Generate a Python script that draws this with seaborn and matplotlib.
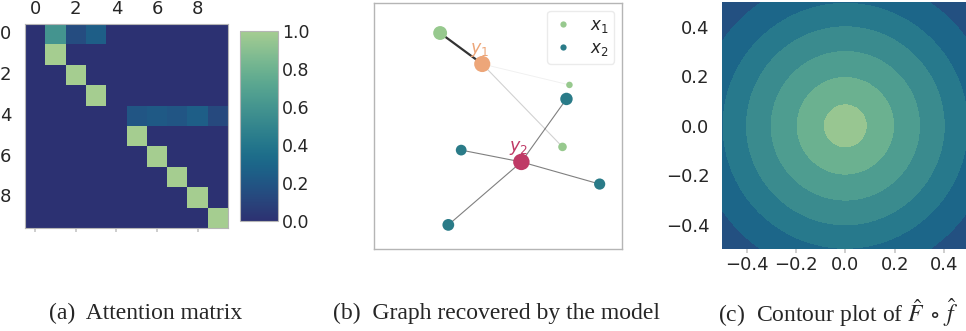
import numpy as np
import pandas as pd
import matplotlib
matplotlib.use("Agg")
import matplotlib.pyplot as plt
import seaborn as sns

sns.set_theme(style="white")
plt.rcParams["font.family"] = ["DejaVu Sans"]

# ---- (a) attention weights (rows: queries, columns: keys) ----
attention_rows = [
    [0.00, 0.60, 0.15, 0.25, 0.00, 0.00, 0.00, 0.00, 0.00, 0.00],
    [0.00, 1.00, 0.00, 0.00, 0.00, 0.00, 0.00, 0.00, 0.00, 0.00],
    [0.00, 0.00, 1.00, 0.00, 0.00, 0.00, 0.00, 0.00, 0.00, 0.00],
    [0.00, 0.00, 0.00, 1.00, 0.00, 0.00, 0.00, 0.00, 0.00, 0.00],
    [0.00, 0.00, 0.00, 0.00, 0.00, 0.20, 0.22, 0.20, 0.25, 0.13],
    [0.00, 0.00, 0.00, 0.00, 0.00, 1.00, 0.00, 0.00, 0.00, 0.00],
    [0.00, 0.00, 0.00, 0.00, 0.00, 0.00, 1.00, 0.00, 0.00, 0.00],
    [0.00, 0.00, 0.00, 0.00, 0.00, 0.00, 0.00, 1.00, 0.00, 0.00],
    [0.00, 0.00, 0.00, 0.00, 0.00, 0.00, 0.00, 0.00, 1.00, 0.00],
    [0.00, 0.00, 0.00, 0.00, 0.00, 0.00, 0.00, 0.00, 0.00, 1.00],
]
colorbar_ticks = [0.0, 0.2, 0.4, 0.6, 0.8, 1.0]

# ---- (b) recovered graph ----
node_kind = ["$x_1$", "$x_1$", "$x_1$", "$x_2$", "$x_2$", "$x_2$", "$x_2$"]
node_x = [2.67, 7.89, 7.61, 7.77, 3.52, 9.11, 3.00]
node_y = [8.78, 6.67, 4.15, 6.10, 4.02, 2.64, 0.98]
node_size = [100, 22, 38, 80, 60, 65, 72]

out_names = ["$y_1$", "$y_2$"]
out_x = [4.37, 5.95]
out_y = [7.52, 3.54]
out_size = [135, 140]
out_colors = ["#eda679", "#bf3a66"]

# edges: (output node index, input node index, weight)
edge_out = [0, 0, 0, 1, 1, 1, 1]
edge_in = [0, 1, 2, 3, 4, 5, 6]
edge_weight = [0.80, 0.06, 0.18, 0.50, 0.50, 0.50, 0.50]
edge_width = [1.6, 0.7, 0.8, 0.8, 0.8, 0.8, 0.8]

# ---- (c) contour plot ----
ring_radii = [0.09, 0.20, 0.305, 0.405, 0.50, 0.61]
band_positions = [0.17, 0.30, 0.42, 0.54, 0.66, 0.79, 0.95]
axis_ticks = [-0.4, -0.2, 0.0, 0.2, 0.4]

captions = ["(a)  Attention matrix", "(b)  Graph recovered by the model",
            r"(c)  Contour plot of $\hat{F}\;\circ\;\hat{f}$"]

W, H = 966, 331
fig = plt.figure(figsize=(W / 100, H / 100), dpi=100)


def box(left, top, right, bottom):
    return [left / W, (H - bottom) / H, (right - left) / W, (bottom - top) / H]


tick_grey = "#c8c8c8"
frame_grey = "#b5b5b5"
tick_fs = 13
cmap = sns.color_palette("crest_r", as_cmap=True)

# (a) heatmap
ax_a = fig.add_axes(box(25, 24, 228, 228))
cax = fig.add_axes(box(240, 31, 278, 221))
mat = pd.DataFrame(attention_rows)
sns.heatmap(mat, ax=ax_a, cbar_ax=cax, cmap=cmap, vmin=0, vmax=1,
            xticklabels=2, yticklabels=2,
            cbar_kws={"ticks": colorbar_ticks})
ax_a.tick_params(axis="x", top=False, labeltop=True, bottom=True,
                 labelbottom=False, length=3, color=tick_grey,
                 labelsize=tick_fs, rotation=0, pad=1)
ax_a.tick_params(axis="y", left=False, labelsize=tick_fs, rotation=0, pad=4)
for s in ax_a.spines.values():
    s.set_visible(True)
    s.set_color(frame_grey)
    s.set_linewidth(0.8)
cax.tick_params(length=0, labelsize=12.5, pad=3)
cax.set_yticklabels([f"{t:.1f}" for t in colorbar_ticks])
cb = ax_a.collections[0].colorbar
cb.outline.set_visible(True)
cb.outline.set_edgecolor(frame_grey)
cb.outline.set_linewidth(0.8)

# (b) graph
ax_b = fig.add_axes(box(374, 3, 621.7, 249))
ax_b.set_xlim(0, 10)
ax_b.set_ylim(0, 10)
for o, i, w, lw in zip(edge_out, edge_in, edge_weight, edge_width):
    ax_b.plot([out_x[o], node_x[i]], [out_y[o], node_y[i]],
              color="black", alpha=w, lw=lw, zorder=1)
nodes = pd.DataFrame({"x": node_x, "y": node_y, "kind": node_kind,
                      "size": node_size})
sns.scatterplot(data=nodes, x="x", y="y", hue="kind",
                palette=["#97c98e", "#2a7b88"], size="size",
                sizes=(min(node_size), max(node_size)),
                size_norm=(min(node_size), max(node_size)),
                linewidth=0, ax=ax_b, zorder=3, legend=False)
ax_b.scatter(out_x, out_y, s=out_size, c=out_colors, linewidths=0, zorder=3)
for name, x, y, c in zip(out_names, out_x, out_y, out_colors):
    ax_b.text(x - 0.12, y + 0.22, name, color=c, fontsize=12.5,
              ha="center", va="bottom", zorder=4)
handles = [plt.Line2D([], [], ls="", marker="o", ms=4.5, mec="none", mfc=c)
           for c in ["#97c98e", "#2a7b88"]]
ax_b.legend(handles, ["$x_1$", "$x_2$"], loc="upper right", fontsize=12,
            frameon=True, edgecolor="#e6e6e6", borderpad=0.35,
            handlelength=1.2, handletextpad=1.0, labelspacing=0.2,
            borderaxespad=0.45)
ax_b.set_xticks([])
ax_b.set_yticks([])
ax_b.set_xlabel("")
ax_b.set_ylabel("")
for s in ax_b.spines.values():
    s.set_color(frame_grey)
    s.set_linewidth(1.0)

# (c) contour
ax_c = fig.add_axes(box(722, 2.3, 968.7, 249.3))
g = np.linspace(-0.5, 0.5, 41)
gx, gy = np.meshgrid(g, g)
radius = np.hypot(gx, gy)
levels = [0.0] + ring_radii + [0.8]
band_colors = [cmap(p) for p in band_positions[::-1]]
ax_c.contourf(gx, gy, radius, levels=levels, colors=band_colors)
ax_c.set_xlim(-0.5, 0.5)
ax_c.set_ylim(-0.5, 0.5)
ax_c.set_xticks(axis_ticks)
ax_c.set_yticks(axis_ticks)
ax_c.set_xticklabels([f"{t:.1f}".replace("-", "\u2212") for t in axis_ticks])
ax_c.set_yticklabels([f"{t:.1f}".replace("-", "\u2212") for t in axis_ticks])
ax_c.tick_params(axis="x", bottom=True, length=3, color=tick_grey,
                 labelsize=tick_fs, pad=2)
ax_c.tick_params(axis="y", left=False, labelsize=tick_fs, pad=3)
for s in ax_c.spines.values():
    s.set_visible(False)

# captions
for text, xc in zip(captions, [146, 497, 838]):
    fig.text(xc / W, (H - 313) / H, text, ha="center", va="center",
             fontsize=17, family=["Liberation Serif"], math_fontfamily="stix")

fig.savefig("out.png", dpi=100)
